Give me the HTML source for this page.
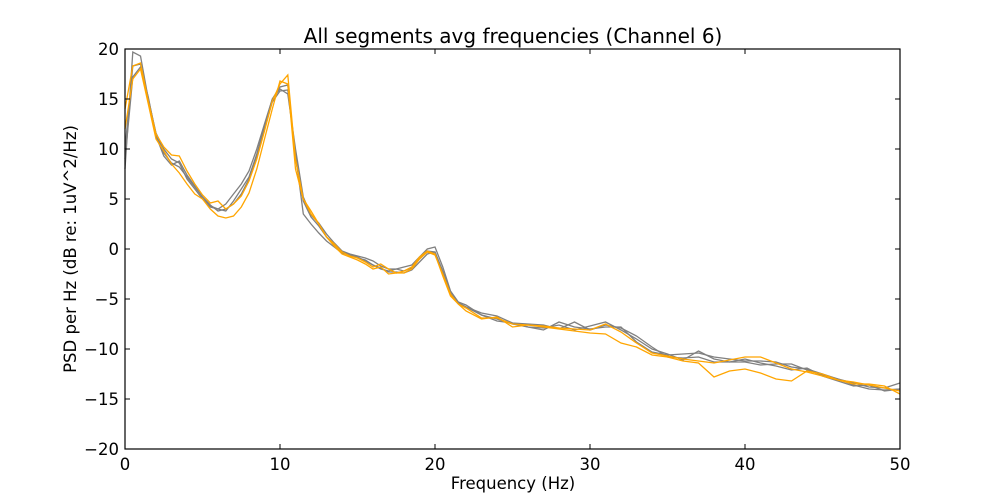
<!DOCTYPE html>
<html><head><meta charset="utf-8"><style>
body{margin:0;background:#fff;}
svg text{font-family:"DejaVu Sans","Liberation Sans",sans-serif;fill:#000;}
</style></head><body>
<svg id="chart" width="1000" height="500" style="position:absolute;left:0;top:0">
<rect width="1000" height="500" fill="#fff"/>
<g id="series"></g>
<g id="axes"></g>
<text x="513" y="43" text-anchor="middle" font-size="20">All segments avg frequencies (Channel 6)</text>
<text x="513" y="489" text-anchor="middle" font-size="16.5">Frequency (Hz)</text>
<text x="0" y="0" transform="translate(76,249) rotate(-90)" text-anchor="middle" font-size="16.5">PSD per Hz (dB re: 1uV^2/Hz)</text>
</svg>
<script>
const freqs=[0,0.5,1,1.5,2,2.5,3,3.5,4,4.5,5,5.5,6,6.5,7,7.5,8,8.5,9,9.5,10,10.5,11,11.5,12,12.5,13,13.5,14,14.5,15,15.5,16,16.5,17,17.5,18,18.5,19,19.5,20,20.5,21,21.5,22,23,24,25,26,27,28,29,30,31,32,33,34,35,36,37,38,39,40,41,42,43,44,45,46,47,48,49,50];
const orangeA=[12,17,18,14.5,11,9.8,8.5,7.6,6.5,5.5,5,4,3.3,3.1,3.3,4.2,5.6,8,11,14,16.8,16.5,8,5,3.5,2.5,1.2,0.3,-0.5,-0.8,-1.1,-1.5,-2,-1.8,-2.5,-2.4,-2.4,-2,-1,-0.3,-0.6,-2.5,-4.5,-5.5,-6.2,-7,-6.8,-7.8,-7.6,-7.8,-8,-8.2,-8.4,-8.5,-9.4,-9.8,-10.6,-10.8,-11.2,-11.4,-12.8,-12.2,-12,-12.4,-13,-13.2,-12.2,-12.5,-13.1,-13.5,-13.5,-13.7,-14.5];
const orangeB=[14,18.3,18.6,14.8,11.5,10.2,9.4,9.3,7.8,6.5,5.4,4.6,4.8,4,4.5,5.3,6.8,9,11.8,14.8,16.5,17.4,9,5,3.8,2.5,1.2,0.5,-0.3,-0.7,-0.9,-1.3,-1.8,-1.5,-2,-2.4,-2.2,-1.8,-0.8,-0.2,-0.5,-2.7,-4.7,-5.5,-5.9,-6.9,-6.9,-7.5,-7.6,-7.7,-7.9,-8,-8.1,-7.5,-8.3,-9.4,-10.4,-10.7,-11,-11.2,-11.4,-11.1,-10.8,-10.8,-11.4,-12,-12.3,-12.7,-13.1,-13.3,-13.6,-13.9,-14.2];
const grayA=[8,19.7,19.3,15,11.6,10,9,8.6,7,6,5,4.2,4,4.5,5.5,6.5,7.8,10,12.5,15,16,15.5,10,5.2,3.4,2.6,1.5,0.6,-0.2,-0.5,-0.7,-0.9,-1.2,-1.7,-2,-2,-1.8,-1.6,-0.8,0,0.2,-1.8,-4.2,-5.3,-5.6,-6.6,-7,-7.5,-7.8,-8.1,-7.3,-7.8,-8,-7.8,-7.8,-9.3,-10.3,-10.6,-10.5,-10.4,-10.8,-11,-11.2,-11.2,-11.3,-11.8,-12,-12.5,-13,-13.4,-13.8,-13.9,-13.4];
const grayB=[10,18.3,18.5,15,11.5,9.6,8.6,8.2,7.2,6.2,5.2,4.3,4,3.8,4.8,6,7.2,9.5,12.3,15,16.2,16.4,9,4.8,3.2,2.3,1.2,0.4,-0.3,-0.6,-0.9,-1.1,-1.6,-2,-2.2,-2,-2.2,-1.9,-1,-0.2,-0.3,-2.2,-4.4,-5.4,-5.8,-6.4,-6.7,-7.4,-7.8,-7.9,-7.6,-8.1,-7.7,-7.3,-8.1,-9,-10,-10.5,-11.1,-10.2,-11,-11.3,-11.3,-11.6,-11.5,-11.5,-12.1,-12.6,-13,-13.6,-14,-14.1,-14];
const grayC=[9,17.2,18.2,15.2,11.3,9.3,8.4,8.8,7.4,6.3,5.2,4.4,3.8,4,4.5,5.5,7,9.3,12,14.7,15.8,15.9,9.5,3.5,2.5,1.6,0.8,0.2,-0.4,-0.6,-0.8,-1.2,-1.6,-1.9,-2.3,-2.3,-2.4,-2.1,-1.3,-0.5,-0.3,-2.4,-4.6,-5.4,-5.8,-6.6,-7.2,-7.4,-7.5,-7.6,-8,-7.3,-8.1,-7.6,-7.9,-8.7,-9.8,-10.8,-10.9,-10.8,-11.3,-11.3,-11,-11.4,-11.7,-12.1,-11.9,-12.7,-13.2,-13.7,-13.6,-14.2,-14];
const seriesList=[[grayA,'#808080','gray-segment-1'],[grayB,'#808080','gray-segment-2'],[grayC,'#808080','gray-segment-3'],[orangeB,'#ffa500','orange-segment-2'],[orangeA,'#ffa500','orange-segment-1']];
const xTicks=[0,10,20,30,40,50];
const yTicks=[20,15,10,5,0,-5,-10,-15,-20];
const X0=125,X1=900,Y0=49,Y1=449;
const xs=v=>X0+(v-0)/(50-0)*(X1-X0);
const ys=v=>Y1-(v+20)/40*(Y1-Y0);
const NS='http://www.w3.org/2000/svg';
const sg=document.getElementById('series'),ag=document.getElementById('axes');
function mk(tag,attrs,parent){const e=document.createElementNS(NS,tag);for(const k in attrs)e.setAttribute(k,attrs[k]);parent.appendChild(e);return e;}
seriesList.forEach(s=>{
  const d=s[0].map((v,i)=>(i?'L':'M')+xs(freqs[i]).toFixed(1)+' '+ys(v).toFixed(1)).join('');
  const p=mk('path',{d:d,fill:'none',stroke:s[1],'stroke-width':1.3},sg);
  
  
});
const frame=mk('rect',{x:X0,y:Y0,width:X1-X0,height:Y1-Y0,fill:'none',stroke:'#000','stroke-width':1.2},ag);


xTicks.forEach(t=>{
  const x=xs(t);
  mk('line',{x1:x,x2:x,y1:Y1,y2:Y1-5,stroke:'#000'},ag);
  mk('line',{x1:x,x2:x,y1:Y0,y2:Y0+5,stroke:'#000'},ag);
  const tx=mk('text',{x:x,y:Y1+21,'text-anchor':'middle','font-size':16.5},ag);
  tx.textContent=t;
  
  
});
yTicks.forEach(t=>{
  const y=ys(t);
  mk('line',{x1:X0,x2:X0+5,y1:y,y2:y,stroke:'#000'},ag);
  mk('line',{x1:X1,x2:X1-5,y1:y,y2:y,stroke:'#000'},ag);
  const tx=mk('text',{x:X0-6,y:y+6,'text-anchor':'end','font-size':16.5},ag);
  tx.textContent=t<0?'\u2212'+(-t):t;
  
  
});
</script>
</body></html>
